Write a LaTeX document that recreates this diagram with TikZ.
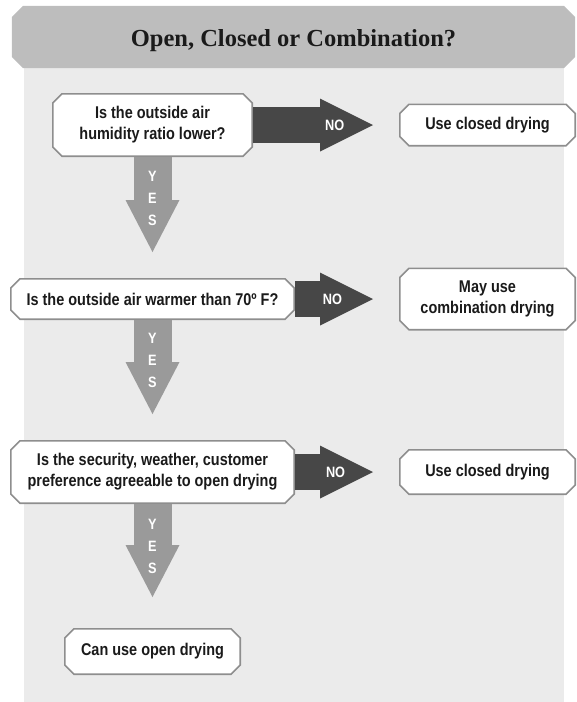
\documentclass[tikz,border=0pt]{standalone}
\usepackage{fontspec}
\setmainfont{Liberation Serif}
\newfontfamily\boxfont[FakeStretch=0.85]{Liberation Sans}
\usetikzlibrary{arrows.meta}

\definecolor{bannergray}{HTML}{BDBDBD}
\definecolor{panelgray}{HTML}{EBEBEB}
\definecolor{nogray}{HTML}{474747}
\definecolor{yesgray}{HTML}{9A9A9A}
\definecolor{edgegray}{HTML}{8E8E8E}
\definecolor{textgray}{HTML}{1A1A1A}

% octagon outline inside a node, #1 = chamfer
\newcommand\chamferbox[1]{([xshift=#1,yshift=-0.8pt]path picture bounding box.north west) -- ([xshift=-#1,yshift=-0.8pt]path picture bounding box.north east) -- ([xshift=-0.8pt,yshift=-#1]path picture bounding box.north east) -- ([xshift=-0.8pt,yshift=#1]path picture bounding box.south east) -- ([xshift=-#1,yshift=0.8pt]path picture bounding box.south east) -- ([xshift=#1,yshift=0.8pt]path picture bounding box.south west) -- ([xshift=0.8pt,yshift=#1]path picture bounding box.south west) -- ([xshift=0.8pt,yshift=-#1]path picture bounding box.north west) -- cycle}

\begin{document}
\begin{tikzpicture}[x=1pt,y=-1pt]
\tikzstyle{every node}+=[inner sep=0pt, outer sep=0pt]
\tikzstyle{box}=[rectangle, align=center, text=textgray, font=\boxfont\bfseries\fontsize{17}{21}\selectfont, path picture={\draw[fill=white, draw=edgegray, line width=1.6pt] \chamferbox{10pt};}]
\tikzstyle{noarr}=[draw=nogray, line width=36pt, -{Triangle[length=53pt,width=53pt,line width=0pt]}, shorten >=26pt]
\tikzstyle{yesarr}=[draw=yesgray, line width=38pt, -{Triangle[length=52pt,width=54pt,line width=0pt]}]
\tikzstyle{nolbl}=[text=white, font=\boxfont\bfseries\fontsize{15}{15}\selectfont]
\tikzstyle{yeslbl}=[text=white, align=center, font=\boxfont\bfseries\fontsize{15}{22}\selectfont]
\useasboundingbox (0,0) rectangle (577,702);
% panel and banner
\fill[panelgray] (23.5,68) rectangle (564,702);
\node[rectangle, minimum width=565pt, minimum height=64pt, text height=18pt, text depth=0pt, text=textgray, font=\bfseries\fontsize{24.5}{28}\selectfont, path picture={\fill[bannergray] \chamferbox{12pt};}] (title) at (293.5,37) {Open, Closed or Combination?};
% questions and answers
\node[box, minimum width=201pt, minimum height=64pt] (q1) at (152.5,125) {Is the outside air\\humidity ratio lower?};
\node[box, minimum width=177pt, minimum height=43pt] (d1) at (487.5,125) {Use closed drying};
\node[box, minimum width=285pt, minimum height=42pt] (q2) at (152.5,299) {Is the outside air warmer than 70º F?};
\node[box, minimum width=177pt, minimum height=63pt] (d2) at (487.5,299) {May use\\combination drying};
\node[box, minimum width=285pt, minimum height=64pt] (q3) at (152.5,472) {Is the security, weather, customer\\preference agreeable to open drying};
\node[box, minimum width=177pt, minimum height=46pt] (d3) at (487.5,472) {Use closed drying};
\node[box, minimum width=177pt, minimum height=47pt] (d4) at (152.5,651.5) {Can use open drying};
% no arrows
\draw[noarr] (q1.east) -- node[nolbl, pos=0.56] (no1) {NO} (d1.west);
\draw[noarr] (q2.east) -- node[nolbl, pos=0.36] (no2) {NO} (d2.west);
\draw[noarr] (q3.east) -- node[nolbl, pos=0.39] (no3) {NO} (d3.west);
% yes arrows
\draw[yesarr, shorten >=26pt] (q1.south) -- node[yeslbl, pos=0.34] (yes1) {Y\\E\\S} (q2.north);
\draw[yesarr, shorten >=26pt] (q2.south) -- node[yeslbl, pos=0.34] (yes2) {Y\\E\\S} (q3.north);
\draw[yesarr, shorten >=31pt] (q3.south) -- node[yeslbl, pos=0.34] (yes3) {Y\\E\\S} (d4.north);
\end{tikzpicture}
\end{document}
